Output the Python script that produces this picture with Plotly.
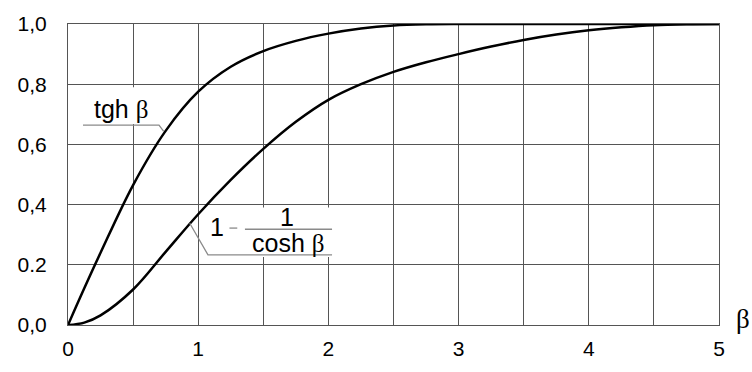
import plotly.graph_objects as go

# argument values
beta = [0, 0.125, 0.25, 0.5, 0.75, 1.0, 1.25, 1.5, 1.75, 2.0, 2.25, 2.5, 2.75,
        3.0, 3.25, 3.5, 3.75, 4.0, 4.25, 4.5, 4.75, 5.0]

# tgh(beta)
tgh_vals = [0, 0.122, 0.24, 0.465, 0.645, 0.775, 0.858, 0.91, 0.944, 0.968, 0.985,
            0.995, 0.999, 1.0, 1.0, 1.0, 1.0, 1.0, 1.0, 1.0, 1.0, 1.0]

# 1 - 1/cosh(beta)
sech_vals = [0, 0.008, 0.032, 0.118, 0.243, 0.368, 0.482, 0.585, 0.675, 0.748, 0.8,
             0.841, 0.873, 0.90, 0.925, 0.947, 0.965, 0.979, 0.989, 0.996, 0.999, 1.0]

y_ticks = [0, 0.2, 0.4, 0.6, 0.8, 1.0]
y_tick_text = ["0,0", "0.2", "0,4", "0,6", "0,8", "1,0"]
x_ticks = [0, 1, 2, 3, 4, 5]
x_tick_text = ["0", "1", "2", "3", "4", "5"]

SANS = "Liberation Sans, Arial, sans-serif"
BETA = '<span style="font-family:Liberation Serif">β</span>'
GRID = "#555555"
LEAD = "#8a8a8a"

fig = go.Figure()
for vals in (tgh_vals, sech_vals):
    fig.add_trace(go.Scatter(
        x=beta, y=vals, mode="lines",
        line=dict(color="black", width=2.5, shape="spline", smoothing=1.0),
        showlegend=False, hoverinfo="skip", cliponaxis=False,
    ))

shapes = [
    # white patches behind the curve labels
    dict(type="rect", layer="between", x0=0.125, x1=0.7, y0=0.668, y1=0.79,
         fillcolor="white", line=dict(width=0)),
    dict(type="rect", layer="between", x0=1.075, x1=2.045, y0=0.226, y1=0.39,
         fillcolor="white", line=dict(width=0)),
    # leader of the tgh label
    dict(type="path", layer="above", path="M 0.115 0.664 L 0.699 0.664 L 0.735 0.643",
         line=dict(color=LEAD, width=1.3)),
    # leader of the 1 - 1/cosh label
    dict(type="path", layer="above", path="M 0.935 0.338 L 1.075 0.233 L 2.028 0.233",
         line=dict(color=LEAD, width=1.3)),
    # fraction bar
    dict(type="line", layer="above", x0=1.359, x1=2.028, y0=0.318, y1=0.318,
         line=dict(color=LEAD, width=1.6)),
    # minus sign
    dict(type="line", layer="above", x0=1.24, x1=1.30, y0=0.322, y1=0.322,
         line=dict(color=LEAD, width=1.3)),
]

annotations = [
    dict(x=0.41, y=0.718, text="tgh " + BETA, showarrow=False,
         font=dict(family=SANS, size=25, color="black")),
    dict(x=1.144, y=0.325, text="1", showarrow=False,
         font=dict(family=SANS, size=25, color="black")),
    dict(x=1.68, y=0.36, text="1", showarrow=False,
         font=dict(family=SANS, size=25, color="black")),
    dict(x=1.69, y=0.274, text="cosh " + BETA, showarrow=False,
         font=dict(family=SANS, size=25, color="black")),
    dict(x=1.037, y=0.02, xref="paper", yref="paper", xanchor="center",
         yanchor="middle", text=BETA, showarrow=False,
         font=dict(family=SANS, size=27, color="black")),
]

fig.update_layout(
    width=752, height=372,
    margin=dict(l=68, r=33, t=21, b=26),
    paper_bgcolor="white", plot_bgcolor="white",
    shapes=shapes, annotations=annotations,
    font=dict(family=SANS, size=21, color="black"),
)
fig.update_xaxes(
    range=[0, 5], tickvals=x_ticks, ticktext=x_tick_text,
    showgrid=True, gridcolor=GRID, gridwidth=1,
    minor=dict(dtick=0.5, showgrid=True, gridcolor=GRID, gridwidth=1),
    showline=True, linecolor=GRID, linewidth=1, mirror=True,
    zeroline=False, ticks="", ticklabelstandoff=5,
    tickfont=dict(family=SANS, size=21, color="black"),
)
fig.update_yaxes(
    range=[0, 1], tickvals=y_ticks, ticktext=y_tick_text,
    showgrid=True, gridcolor=GRID, gridwidth=1,
    showline=True, linecolor=GRID, linewidth=1, mirror=True,
    zeroline=False, ticks="", ticklabelstandoff=16,
    tickfont=dict(family=SANS, size=21, color="black"),
)

fig.write_html("out.html")
